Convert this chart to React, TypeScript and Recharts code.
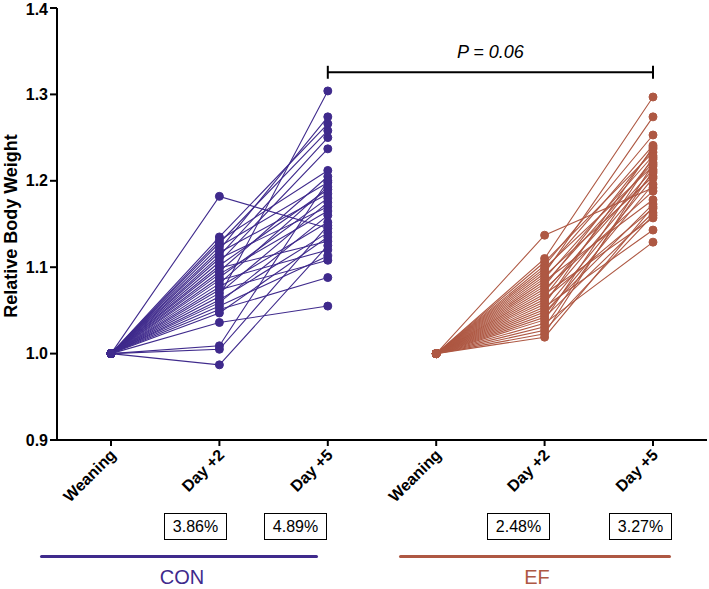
import React from "react";
import { LineChart, Line, XAxis, YAxis, ReferenceLine, Label } from "recharts";

// six positions on the x axis: three per group
const categories = ["CON-W", "CON-D2", "CON-D5", "EF-W", "EF-D2", "EF-D5"];
const tickLabels = ["Weaning", "Day +2", "Day +5", "Weaning", "Day +2", "Day +5"];
const yTicks = [0.9, 1.0, 1.1, 1.2, 1.3, 1.4];

const weaning = 1.0;

// CON animals, paired by index
const conDay2 = [
  1.182, 1.135, 1.131, 1.128, 1.124, 1.12, 1.117, 1.113, 1.11, 1.106,
  1.102, 1.099, 1.095, 1.092, 1.088, 1.085, 1.081, 1.077, 1.074, 1.07,
  1.066, 1.062, 1.059, 1.055, 1.051, 1.036, 1.009, 1.005, 0.987, 1.047,
];
const conDay5 = [
  1.145, 1.266, 1.212, 1.258, 1.198, 1.274, 1.185, 1.25, 1.17, 1.237,
  1.19, 1.13, 1.205, 1.165, 1.18, 1.12, 1.193, 1.152, 1.108, 1.175,
  1.304, 1.14, 1.16, 1.113, 1.088, 1.055, 1.2, 1.148, 1.125, 1.135,
];

// EF animals, paired by index
const efDay2 = [
  1.137, 1.11, 1.106, 1.102, 1.099, 1.096, 1.093, 1.09, 1.087, 1.084,
  1.081, 1.078, 1.075, 1.072, 1.069, 1.066, 1.063, 1.06, 1.057, 1.054,
  1.051, 1.048, 1.045, 1.042, 1.039, 1.035, 1.031, 1.027, 1.023, 1.019,
];
const efDay5 = [
  1.192, 1.297, 1.233, 1.253, 1.217, 1.241, 1.274, 1.205, 1.229, 1.178,
  1.221, 1.237, 1.188, 1.213, 1.157, 1.225, 1.168, 1.209, 1.239, 1.143,
  1.203, 1.173, 1.196, 1.163, 1.227, 1.129, 1.211, 1.16, 1.219, 1.17,
];

const cvLabels = [
  { text: "3.86%", left: 164 },
  { text: "4.89%", left: 264 },
  { text: "2.48%", left: 487 },
  { text: "3.27%", left: 609 },
];

const pValue = "P = 0.06";
const bracketY = 1.3256;

const CON_COLOR = "#3f2a8c";
const EF_COLOR = "#ae5843";
const FONT = "'Liberation Sans', Arial, sans-serif";

const data = categories.map((cat, i) => {
  const row: Record<string, any> = { cat };
  conDay2.forEach((v, k) => {
    if (i === 0) row[`con${k}`] = weaning;
    if (i === 1) row[`con${k}`] = v;
    if (i === 2) row[`con${k}`] = conDay5[k];
  });
  efDay2.forEach((v, k) => {
    if (i === 3) row[`ef${k}`] = weaning;
    if (i === 4) row[`ef${k}`] = v;
    if (i === 5) row[`ef${k}`] = efDay5[k];
  });
  return row;
});

const XTick = ({ x, y, payload }: any) => (
  <g transform={`translate(${x + 6},${y + 8})`}>
    <text
      x={0}
      y={0}
      textAnchor="end"
      transform="rotate(-45)"
      fontFamily={FONT}
      fontWeight="bold"
      fontSize={16}
      fill="#000"
    >
      {tickLabels[categories.indexOf(payload.value)]}
    </text>
  </g>
);

export default function App() {
  return (
    <div style={{ position: "absolute", left: 0, top: 0, width: 709, height: 589, fontFamily: FONT }}>
      <LineChart width={709} height={589} data={data} margin={{ top: 8, right: 2, bottom: 89, left: 0 }}>
        <XAxis
          dataKey="cat"
          scale="point"
          padding={{ left: 54, right: 54 }}
          height={60}
          axisLine={{ stroke: "#000", strokeWidth: 2 }}
          tickLine={{ stroke: "#000", strokeWidth: 2 }}
          tickSize={6}
          tick={<XTick />}
          interval={0}
        />
        <YAxis
          type="number"
          domain={[0.9, 1.4]}
          ticks={yTicks}
          width={57}
          axisLine={{ stroke: "#000", strokeWidth: 2 }}
          tickLine={{ stroke: "#000", strokeWidth: 2 }}
          tickSize={7}
          tickMargin={2}
          tickFormatter={(v: number) => v.toFixed(1)}
          tick={{ fill: "#000", fontFamily: FONT, fontWeight: "bold", fontSize: 16 }}
        />
        {conDay2.map((_, k) => (
          <Line
            key={`con${k}`}
            dataKey={`con${k}`}
            type="linear"
            stroke={CON_COLOR}
            strokeWidth={1.1}
            dot={{ r: 4, fill: CON_COLOR, stroke: CON_COLOR, strokeWidth: 1 }}
            activeDot={false}
            isAnimationActive={false}
          />
        ))}
        {efDay2.map((_, k) => (
          <Line
            key={`ef${k}`}
            dataKey={`ef${k}`}
            type="linear"
            stroke={EF_COLOR}
            strokeWidth={1.1}
            dot={{ r: 4, fill: EF_COLOR, stroke: EF_COLOR, strokeWidth: 1 }}
            activeDot={false}
            isAnimationActive={false}
          />
        ))}
        <ReferenceLine
          segment={[{ x: "CON-D5", y: bracketY }, { x: "EF-D5", y: bracketY }]}
          stroke="#000"
          strokeWidth={2}
        >
          <Label
            value={pValue}
            position="top"
            offset={14}
            style={{ fontStyle: "italic", fontSize: 18, fontFamily: FONT, fill: "#000" }}
          />
        </ReferenceLine>
        <ReferenceLine
          segment={[{ x: "CON-D5", y: bracketY - 0.0075 }, { x: "CON-D5", y: bracketY + 0.0075 }]}
          stroke="#000"
          strokeWidth={2}
        />
        <ReferenceLine
          segment={[{ x: "EF-D5", y: bracketY - 0.0075 }, { x: "EF-D5", y: bracketY + 0.0075 }]}
          stroke="#000"
          strokeWidth={2}
        />
      </LineChart>

      <div style={{ position: "absolute", left: 11, top: 226, width: 0, height: 0 }}>
        <div
          style={{
            position: "absolute",
            left: -120,
            top: -11,
            width: 240,
            height: 22,
            lineHeight: "22px",
            textAlign: "center",
            transform: "rotate(-90deg)",
            fontWeight: "bold",
            fontSize: 18,
            color: "#000",
            whiteSpace: "nowrap",
          }}
        >
          Relative Body Weight
        </div>
      </div>

      {cvLabels.map((c) => (
        <div
          key={c.text}
          style={{
            position: "absolute",
            left: c.left,
            top: 513,
            width: 61,
            height: 25,
            border: "1px solid #000",
            fontSize: 16,
            lineHeight: "25px",
            textAlign: "center",
            color: "#000",
          }}
        >
          {c.text}
        </div>
      ))}

      <div style={{ position: "absolute", left: 40, top: 555, width: 278, height: 3, background: CON_COLOR, borderRadius: 2 }} />
      <div style={{ position: "absolute", left: 399, top: 555, width: 272, height: 3, background: EF_COLOR, borderRadius: 2 }} />
      <div style={{ position: "absolute", left: 132, top: 566, width: 100, textAlign: "center", fontSize: 20, color: CON_COLOR }}>CON</div>
      <div style={{ position: "absolute", left: 487, top: 566, width: 100, textAlign: "center", fontSize: 20, color: EF_COLOR }}>EF</div>
    </div>
  );
}
